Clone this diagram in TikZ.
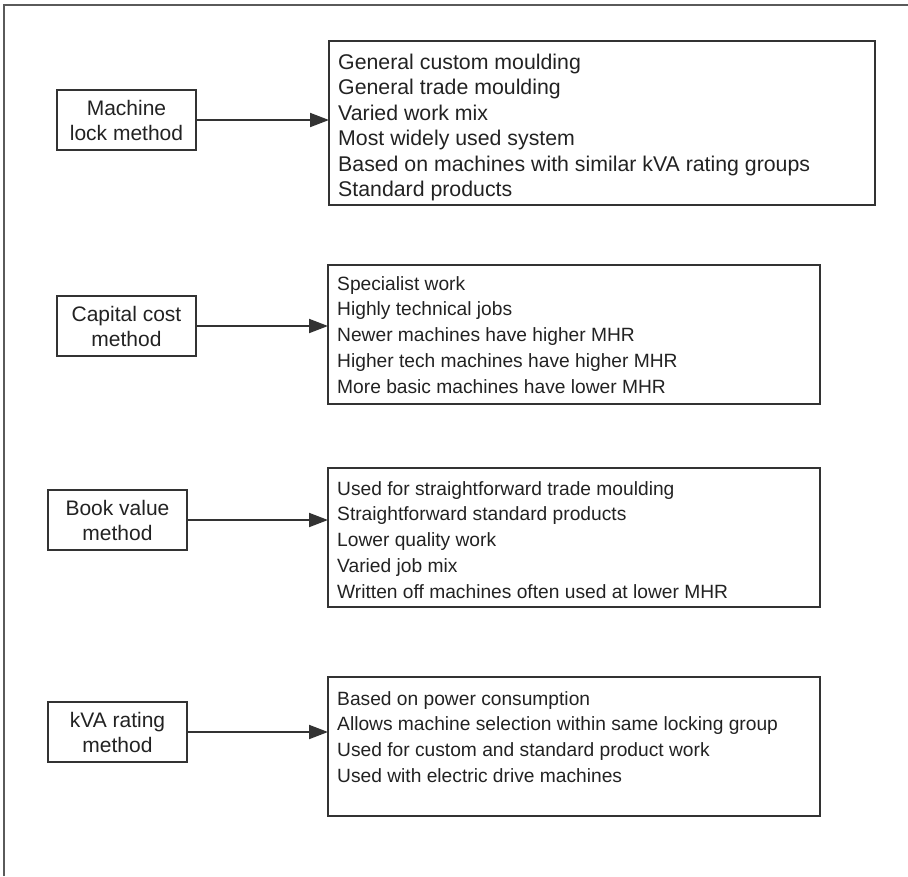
\documentclass[tikz,border=0pt]{standalone}
\usepackage{fontspec}
\setmainfont{Liberation Sans}
\usetikzlibrary{arrows.meta,calc}
\definecolor{ink}{HTML}{222222}
\definecolor{edge}{HTML}{333333}
\definecolor{framegray}{HTML}{5A5A5A}
% stacked lines of a panel, first baseline on the node's base
\newcommand{\itemlines}[1]{\begin{tabular}[t]{@{}l@{}}#1\end{tabular}}
\begin{document}
\begin{tikzpicture}[x=1pt,y=-1pt,
  method/.style={draw=edge,line width=1.6pt,text=ink,align=center,
    font=\fontsize{21}{25}\selectfont,inner sep=0pt,outer sep=0pt,
    minimum width=139pt,minimum height=60pt},
  panel/.style={draw=edge,line width=1.6pt,anchor=north west,inner sep=0pt,outer sep=0pt},
  points/.style={anchor=base west,inner sep=0pt,text=ink,
    font=\fontsize{19.2}{25.8}\selectfont},
  bigpoints/.style={points,font=\fontsize{21.3}{25.5}\selectfont},
  link/.style={draw=edge,line width=1.9pt,-{Triangle[length=19pt,width=14pt]}}]
\useasboundingbox (0,0) rectangle (908,876);

% open frame round the figure
\coordinate (fb) at (4,876);
\coordinate (fc) at (4,5);
\coordinate (fr) at (908,5);
\draw[framegray,line width=2pt] (fb) -- (fc) -- (fr);

% methods
\node[method] (m1) at (126.5,120) {Machine\\lock method};
\node[method] (m2) at (126.5,326) {Capital cost\\method};
\node[method] (m3) at (117.5,520) {Book value\\method};
\node[method] (m4) at (117.5,732) {kVA rating\\method};

% panels
\node[panel,minimum width=546pt,minimum height=164pt] (p1) at (329,41) {};
\node[panel,minimum width=492pt,minimum height=139pt] (p2) at (328,265) {};
\node[panel,minimum width=492pt,minimum height=139pt] (p3) at (328,468) {};
\node[panel,minimum width=492pt,minimum height=139pt] (p4) at (328,677) {};

% panel texts
\node[bigpoints] (t1) at ($(p1.north west)+(9,28)$) {\itemlines{%
  General custom moulding\\
  General trade moulding\\
  Varied work mix\\
  Most widely used system\\
  Based on machines with similar kVA rating groups\\
  Standard products}};
\node[points] (t2) at ($(p2.north west)+(9,25)$) {\itemlines{%
  Specialist work\\
  Highly technical jobs\\
  Newer machines have higher MHR\\
  Higher tech machines have higher MHR\\
  More basic machines have lower MHR}};
\node[points] (t3) at ($(p3.north west)+(9,27)$) {\itemlines{%
  Used for straightforward trade moulding\\
  Straightforward standard products\\
  Lower quality work\\
  Varied job mix\\
  Written off machines often used at lower MHR}};
\node[points] (t4) at ($(p4.north west)+(9,28)$) {\itemlines{%
  Based on power consumption\\
  Allows machine selection within same locking group\\
  Used for custom and standard product work\\
  Used with electric drive machines}};

% connectors
\draw[link] (m1.east) -- (m1.east -| p1.west);
\draw[link] (m2.east) -- (m2.east -| p2.west);
\draw[link] (m3.east) -- (m3.east -| p3.west);
\draw[link] (m4.east) -- (m4.east -| p4.west);
\end{tikzpicture}
\end{document}
